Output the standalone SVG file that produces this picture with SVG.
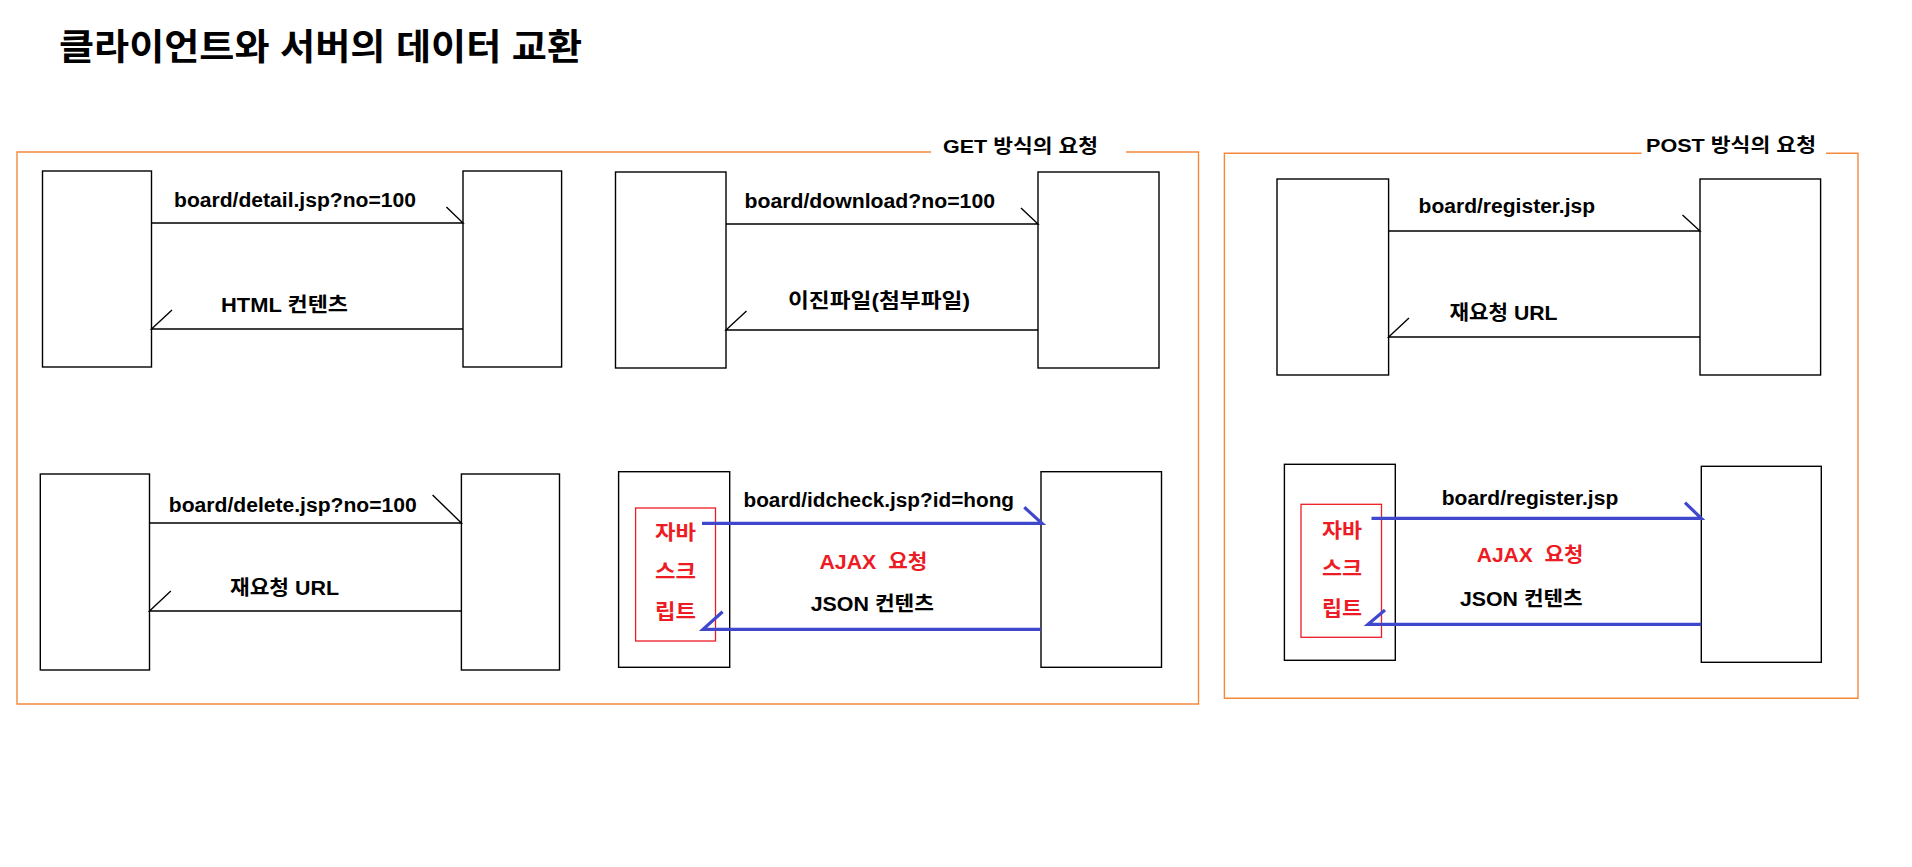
<svg xmlns="http://www.w3.org/2000/svg" width="1912" height="867" viewBox="0 0 1912 867">
<style>
.bg{fill:#fff}
.frame{fill:none;stroke:#F5893B;stroke-width:1.4}
.box{fill:#fff;stroke:#000;stroke-width:1.4}
.js{fill:none;stroke:#ED1C24;stroke-width:1.3}
.conn{fill:none;stroke:#000;stroke-width:1.4}
.ajax{fill:none;stroke:#3F48CC;stroke-width:3.2}
text{font-family:"Liberation Sans","Noto Sans CJK KR",sans-serif;font-weight:bold}
.title{font-size:36px;fill:#000}
.hdr{font-size:19px;fill:#000}
.lbl{font-size:20px;fill:#000}
.red{font-size:20px;fill:#ED1C24}
.pre{white-space:pre}
</style>
<rect class="bg" x="0" y="0" width="1912" height="867"/>
<text class="title" x="59" y="60" textLength="523" lengthAdjust="spacingAndGlyphs">클라이언트와 서버의 데이터 교환</text>

<g id="frame-get">
<path class="frame" d="M931 152 H17 V704 H1198.5 V152 H1126"/>
<text class="hdr" x="943" y="153" textLength="155" lengthAdjust="spacingAndGlyphs">GET 방식의 요청</text>
</g>
<g id="frame-post">
<path class="frame" d="M1641.5 153.3 H1224.4 V698.3 H1858 V153.3 H1826"/>
<text class="hdr" x="1646" y="152" textLength="170" lengthAdjust="spacingAndGlyphs">POST 방식의 요청</text>
</g>

<g id="client1"><rect class="box" x="42.5" y="171" width="109" height="196"/></g>
<g id="server1"><rect class="box" x="463" y="171" width="98.6" height="196"/></g>
<g id="client2"><rect class="box" x="615.5" y="172" width="110.5" height="196"/></g>
<g id="server2"><rect class="box" x="1038" y="172" width="121" height="196"/></g>
<g id="client3"><rect class="box" x="1277" y="179" width="111.6" height="196"/></g>
<g id="server3"><rect class="box" x="1700" y="179" width="120.6" height="196"/></g>
<g id="client4"><rect class="box" x="40.3" y="474" width="109.2" height="196"/></g>
<g id="server4"><rect class="box" x="461.4" y="474" width="98.1" height="196"/></g>
<g id="client5">
<rect class="box" x="618.6" y="471.7" width="111.1" height="195.6"/>
<rect class="js" x="635.6" y="508" width="79.9" height="133"/>
<text class="red" x="655" y="539.5" textLength="41" lengthAdjust="spacingAndGlyphs">자바</text>
<text class="red" x="655" y="579" textLength="41" lengthAdjust="spacingAndGlyphs">스크</text>
<text class="red" x="655" y="619" textLength="41" lengthAdjust="spacingAndGlyphs">립트</text>
</g>
<g id="server5"><rect class="box" x="1041" y="471.7" width="120.5" height="195.6"/></g>
<g id="client6">
<rect class="box" x="1284.4" y="464.3" width="110.9" height="196"/>
<rect class="js" x="1301" y="504.3" width="80.5" height="133"/>
<text class="red" x="1322" y="537.5" textLength="40" lengthAdjust="spacingAndGlyphs">자바</text>
<text class="red" x="1322" y="575.5" textLength="40" lengthAdjust="spacingAndGlyphs">스크</text>
<text class="red" x="1322" y="616" textLength="40" lengthAdjust="spacingAndGlyphs">립트</text>
</g>
<g id="server6"><rect class="box" x="1701.3" y="466.3" width="120" height="196"/></g>

<g id="connectors">
<path class="conn" d="M151.5 223 H463 L446.4 207"/>
<path class="conn" d="M463 329 H151.5 L172 310"/>
<path class="conn" d="M726 224 H1038 L1021 208"/>
<path class="conn" d="M1038 330 H726 L746.5 311"/>
<path class="conn" d="M1388.6 231 H1700 L1682.5 215"/>
<path class="conn" d="M1700 337 H1388.6 L1409 318"/>
<path class="conn" d="M149.5 523 H461.4 L432.6 495"/>
<path class="conn" d="M461.4 611 H149.5 L170.8 591"/>
<path class="ajax" d="M702 523.3 H1042 L1024.3 507.3"/>
<path class="ajax" d="M1041 629.3 H703 L722.6 611.7"/>
<path class="ajax" d="M1371.5 518.3 H1701.3 L1685 502.7"/>
<path class="ajax" d="M1701.3 624.3 H1368 L1385 610"/>

<text class="lbl" x="174" y="207" textLength="242" lengthAdjust="spacingAndGlyphs">board/detail.jsp?no=100</text>
<text class="lbl" x="221" y="312" textLength="127" lengthAdjust="spacingAndGlyphs">HTML 컨텐츠</text>
<text class="lbl" x="744.5" y="208" textLength="250.5" lengthAdjust="spacingAndGlyphs">board/download?no=100</text>
<text class="lbl" x="788" y="308" textLength="182" lengthAdjust="spacingAndGlyphs">이진파일(첨부파일)</text>
<text class="lbl" x="1418.6" y="212.7" textLength="176.5" lengthAdjust="spacingAndGlyphs">board/register.jsp</text>
<text class="lbl" x="1449.5" y="320" textLength="108" lengthAdjust="spacingAndGlyphs">재요청 URL</text>
<text class="lbl" x="168.8" y="511.7" textLength="248" lengthAdjust="spacingAndGlyphs">board/delete.jsp?no=100</text>
<text class="lbl" x="230" y="595" textLength="109" lengthAdjust="spacingAndGlyphs">재요청 URL</text>
<text class="lbl" x="743.5" y="507.3" textLength="270.5" lengthAdjust="spacingAndGlyphs">board/idcheck.jsp?id=hong</text>
<text class="red pre" x="819.4" y="569.3" textLength="108" lengthAdjust="spacingAndGlyphs">AJAX  요청</text>
<text class="lbl" x="810.7" y="610.5" textLength="123.3" lengthAdjust="spacingAndGlyphs">JSON 컨텐츠</text>
<text class="lbl" x="1441.7" y="505" textLength="176.6" lengthAdjust="spacingAndGlyphs">board/register.jsp</text>
<text class="red pre" x="1476.7" y="561.7" textLength="106.6" lengthAdjust="spacingAndGlyphs">AJAX  요청</text>
<text class="lbl" x="1460" y="605.7" textLength="122.7" lengthAdjust="spacingAndGlyphs">JSON 컨텐츠</text>
</g>
</svg>
